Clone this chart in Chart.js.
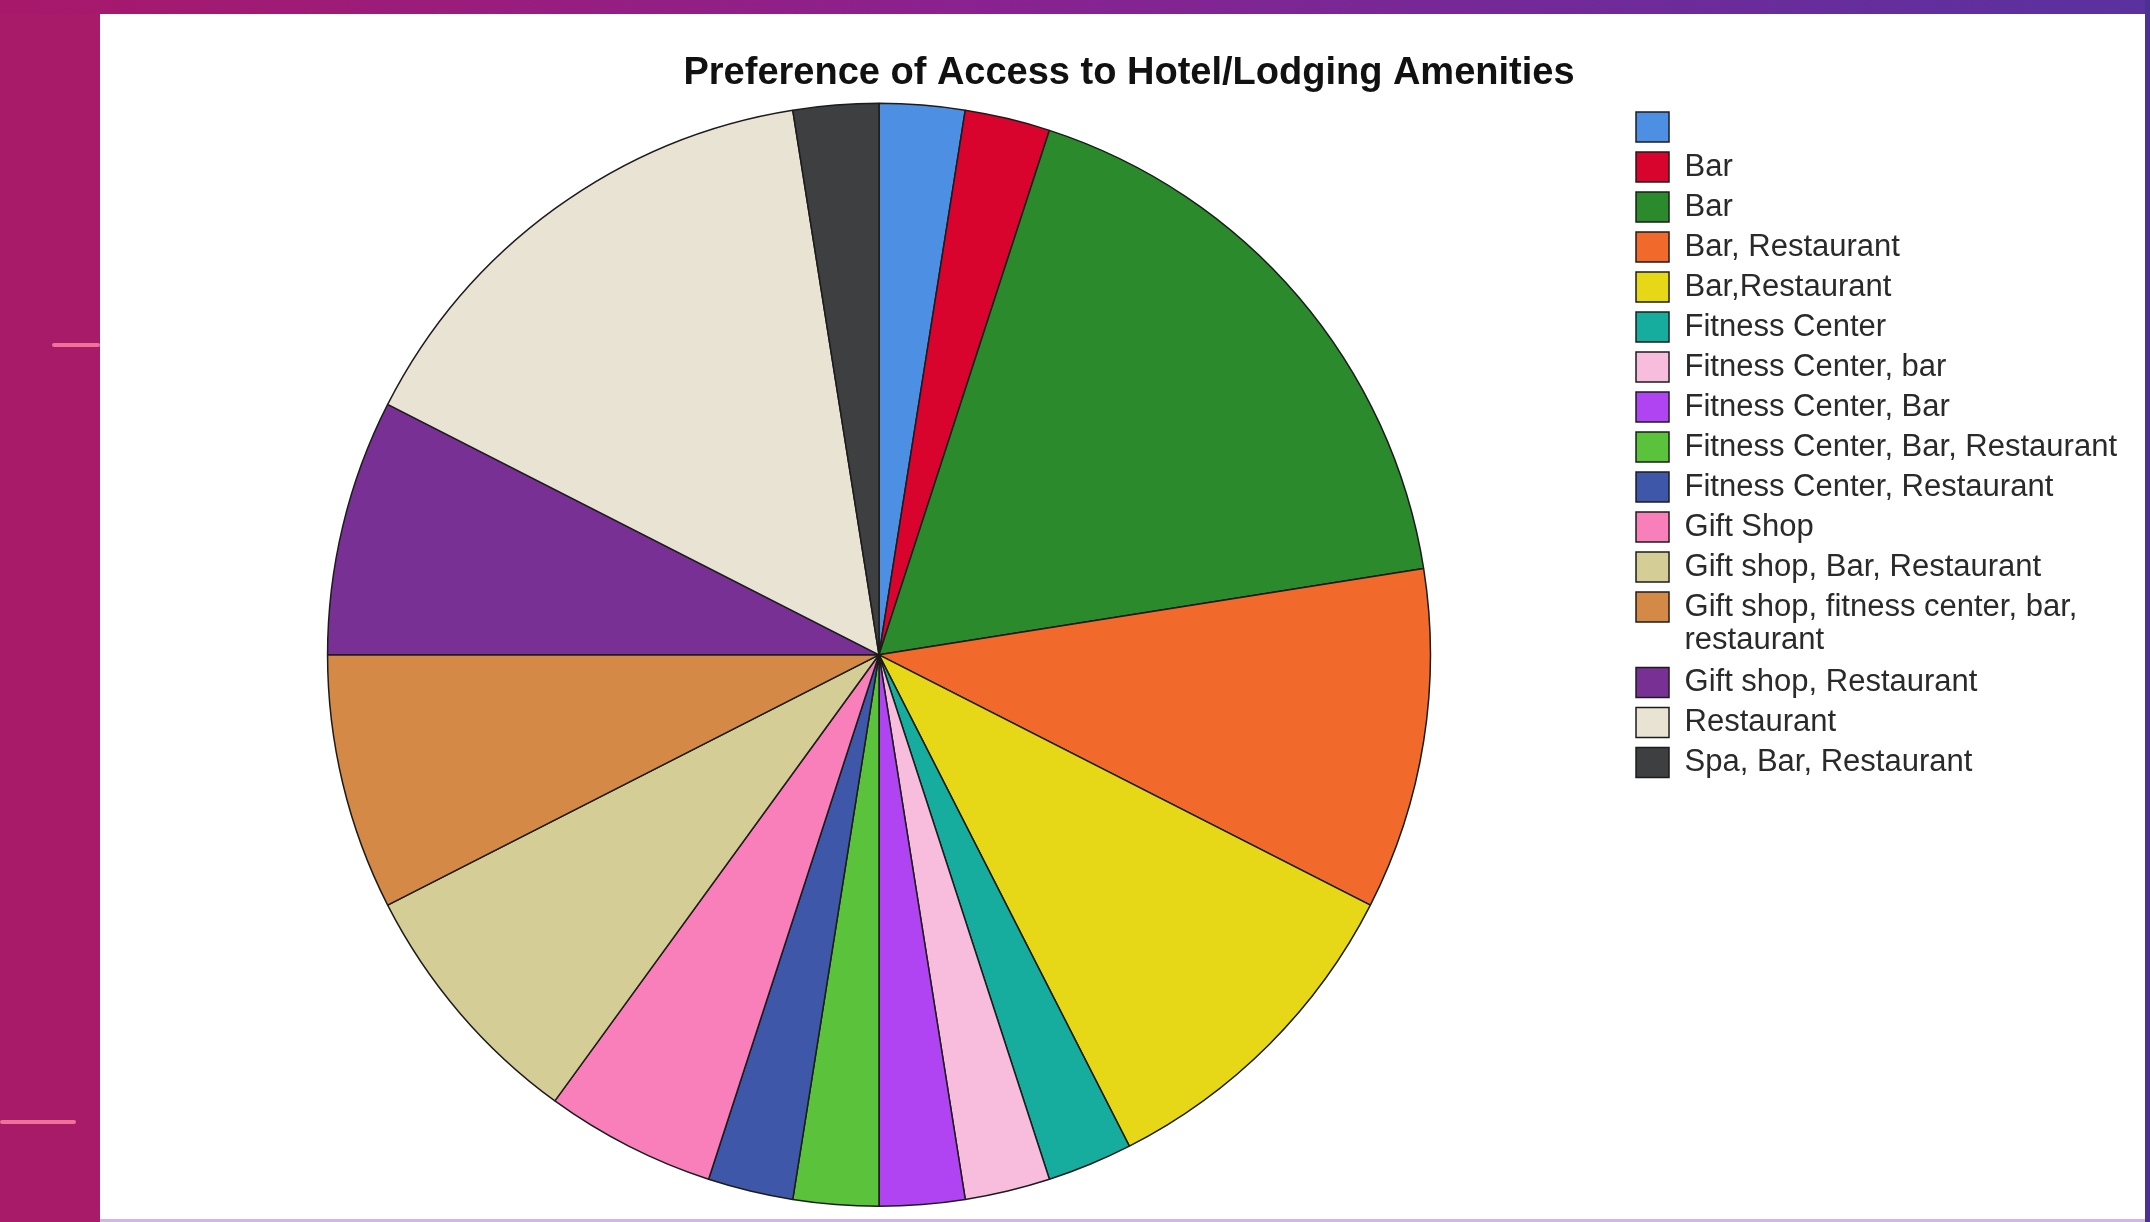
<!DOCTYPE html>
<html>
<head>
<meta charset="utf-8">
<script src="https://cdn.jsdelivr.net/npm/chart.js@4.4.1/dist/chart.umd.min.js"></script>
<style>
  html, body { margin: 0; padding: 0; }
  body { width: 2150px; height: 1222px; position: relative; overflow: hidden; background: #ffffff; }
  #left-strip { position: absolute; left: 0; top: 0; width: 100px; height: 1222px; background: #a81b68; }
  #top-strip { position: absolute; left: 0; top: 0; width: 2150px; height: 14px;
    background: linear-gradient(90deg, #a8186a 0%, #8a2290 45%, #5a31a0 100%); }
  #right-strip { position: absolute; right: 0; top: 0; width: 5px; height: 1222px; background: #4c3092; }
  #bottom-line { position: absolute; left: 100px; bottom: 0; width: 2045px; height: 3px; background: #d4b6e6; }
  .deco { position: absolute; height: 4px; background: #ef7299; border-radius: 2px; }
  #chart-box { position: absolute; left: 100px; top: 14px; width: 2045px; height: 1208px; }
</style>
</head>
<body>
<div id="left-strip"></div>
<div id="top-strip"></div>
<div id="right-strip"></div>
<div id="bottom-line"></div>
<div class="deco" style="left:52px; top:343px; width:48px;"></div>
<div class="deco" style="left:0px; top:1120px; width:76px;"></div>
<div id="chart-box"><canvas id="amenities-chart"></canvas></div>

<script>
// Categories as shown in the legend (one label wraps onto two lines)
const categories = [
    "",
    "Bar",
    "Bar",
    "Bar, Restaurant",
    "Bar,Restaurant",
    "Fitness Center",
    "Fitness Center, bar",
    "Fitness Center, Bar",
    "Fitness Center, Bar, Restaurant",
    "Fitness Center, Restaurant",
    "Gift Shop",
    "Gift shop, Bar, Restaurant",
    ["Gift shop, fitness center, bar,", "restaurant"],
    "Gift shop, Restaurant",
    "Restaurant",
    "Spa, Bar, Restaurant"
];

// Number of responses per category
const responses = [1, 1, 7, 4, 4, 1, 1, 1, 1, 1, 2, 3, 3, 3, 6, 1];

const slice_colors = [
    "#4d8fe3", "#d9042e", "#2b8a2c", "#f26a2b",
    "#e6d816", "#17ad9e", "#f8bddc", "#b044f2",
    "#5bc23b", "#3e57a8", "#f87fb9", "#d5cd96",
    "#d48a46", "#783094", "#e9e3d3", "#3e3f41"
];

Chart.defaults.font.family = "'Liberation Sans', Arial, sans-serif";

const ctx = document.getElementById("amenities-chart").getContext("2d");

const data = {
    labels: categories,
    datasets: [{
        data: responses,
        backgroundColor: slice_colors,
        borderColor: "#1c1c1c",
        borderWidth: 1.5
    }]
};

const config = {
    type: "pie",
    data: data,
    options: {
        responsive: true,
        maintainAspectRatio: false,
        animation: false,
        layout: {
            padding: { left: 31, right: 18, top: 0, bottom: 15 }
        },
        plugins: {
            title: {
                display: true,
                text: "Preference of Access to Hotel/Lodging Amenities",
                color: "#111111",
                font: { size: 38, weight: "bold" },
                padding: { top: 37, bottom: 6 }
            },
            legend: {
                position: "right",
                align: "start",
                fullSize: false,
                labels: {
                    color: "#2a2a2a",
                    font: { size: 31, lineHeight: 1.07 },
                    boxWidth: 33,
                    boxHeight: 30,
                    padding: 9
                }
            },
            tooltip: { enabled: false }
        }
    }
};

const amenities_chart = new Chart(ctx, config);
</script>
</body>
</html>
